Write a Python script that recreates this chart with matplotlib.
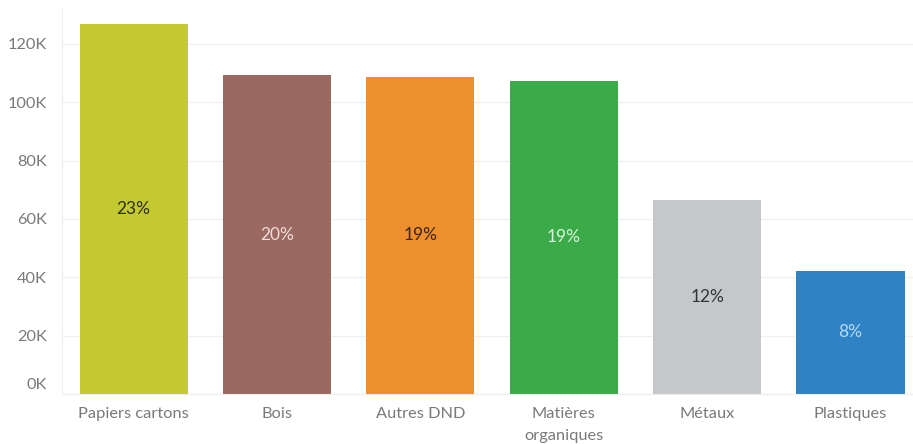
import matplotlib
matplotlib.use("Agg")
import matplotlib.pyplot as plt
from matplotlib.ticker import FuncFormatter, MultipleLocator

plt.rcParams['font.family'] = ['Lato', 'DejaVu Sans']

categories = ["Papiers cartons", "Bois", "Autres DND", "Matières\norganiques", "Métaux", "Plastiques"]
tonnages = [126700, 109300, 108800, 107400, 66400, 42200]
share_labels = ["23%", "20%", "19%", "19%", "12%", "8%"]
bar_colors = ["#c4c932", "#9a6961", "#ee8f2e", "#3bab4a", "#c5c8cb", "#2f82c4"]
label_colors = ["#2e2e1a", "#f1dcd8", "#3a2410", "#d8f2d8", "#333333", "#b6daf6"]

fig = plt.figure(figsize=(9.13, 4.44), dpi=100)
ax = fig.add_axes([62 / 913, 50 / 444, (913 - 62) / 913, (394 - 8) / 444])

x = list(range(len(categories)))
bars = ax.bar(x, tonnages, width=0.754, color=bar_colors, zorder=2)

for bar, txt, col in zip(bars, share_labels, label_colors):
    ax.text(bar.get_x() + bar.get_width() / 2, bar.get_height() / 2, txt,
            ha="center", va="center", fontsize=12.5, color=col, zorder=3)

ax.set_xlim(-0.5, 5.436)
ax.set_ylim(0, 132300)
ax.yaxis.set_major_locator(MultipleLocator(20000))
ax.yaxis.set_major_formatter(FuncFormatter(lambda v, p: f"{int(round(v / 1000))}K"))
ax.grid(axis="y", color="#f0f0f0", linewidth=1, zorder=0)

ax.set_xticks(x)
ax.set_xticklabels(categories, fontsize=11.8, color="#7a7a7a", linespacing=1.75, va="top")
ax.tick_params(axis="x", length=0, pad=9)
ax.tick_params(axis="y", length=0, pad=11, labelsize=11.8, labelcolor="#7a7a7a")

# lift the zero label above the baseline
for lbl in ax.get_yticklabels():
    if lbl.get_text() == "0K":
        lbl.set_transform(lbl.get_transform() + matplotlib.transforms.ScaledTranslation(0, 11 / 100, fig.dpi_scale_trans))

for side in ["top", "right"]:
    ax.spines[side].set_visible(False)
ax.spines["left"].set_color("#eeeeee")
ax.spines["bottom"].set_color("#eeeeee")

fig.savefig("out.png", dpi=100)
